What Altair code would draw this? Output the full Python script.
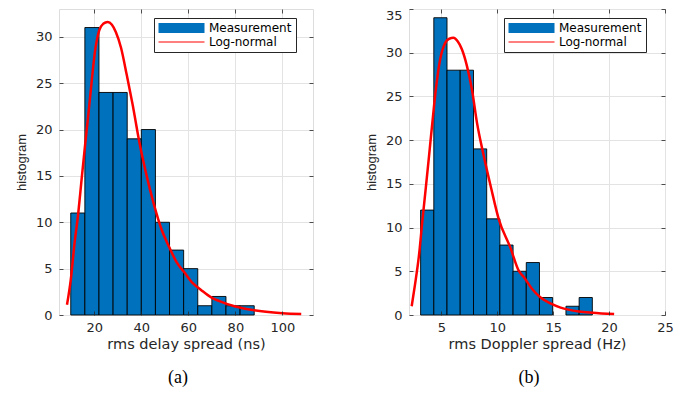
import altair as alt
import pandas as pd

# ---------------- data ----------------
delay_edges = [10, 16, 22, 28, 34, 40, 46, 52, 58, 64, 70, 76, 82, 88]
delay_counts = [11, 31, 24, 24, 19, 20, 10, 7, 5, 1, 2, 1, 1]
delay_fit_x = [8.4, 10.1, 11.5, 13.2, 14.6, 16.0, 17.5, 18.9, 20.3, 22.1, 23.8, 25.7,
               27.5, 29.2, 31.4, 33.8, 36.3, 39.2, 42.0, 45.5, 48.5, 51.9, 55.0, 58.3,
               62.0, 65.4, 69.7, 73.2, 79.6, 86.0, 93.0, 100.0, 108.0]
delay_fit_y = [1.1, 4.0, 7.5, 11.0, 14.6, 18.1, 21.7, 25.2, 28.4, 30.7, 31.4, 31.6,
               31.3, 30.5, 28.8, 25.9, 22.7, 18.6, 15.3, 11.8, 9.3, 7.3, 5.7, 4.6,
               3.4, 2.7, 1.9, 1.5, 0.95, 0.6, 0.35, 0.2, 0.12]

doppler_edges = [3.14, 4.32, 5.50, 6.68, 7.87, 9.05, 10.23, 11.41, 12.59, 13.77,
                 14.95, 16.14, 17.32, 18.50]
doppler_counts = [12, 34, 28, 28, 19, 11, 8, 5, 6, 2, 0, 1, 2]
doppler_fit_x = [2.34, 2.64, 3.0, 3.29, 3.6, 3.9, 4.19, 4.5, 4.88, 5.33, 5.7, 6.08,
                 6.45, 6.83, 7.28, 7.73, 8.18, 8.77, 9.45, 10.12, 11.17, 11.9, 12.4,
                 13.1, 13.87, 14.8, 15.66, 17.3, 18.5, 20.45]
doppler_fit_y = [1.0, 3.5, 6.9, 10.7, 14.5, 18.3, 22.0, 25.8, 29.2, 31.1, 31.6, 31.7,
                 31.3, 30.4, 28.5, 25.8, 22.0, 18.3, 14.5, 11.0, 7.7, 5.1, 4.3,
                 3.0, 2.0, 1.3, 0.85, 0.4, 0.25, 0.1]

series_names = ["Measurement", "Log-normal"]

BLUE = "#0072BD"
RED = "#FF0000"
DARK = "#262626"
GRID = "#E3E3E3"
SANS = "DejaVu Sans"

H = 306


def panel(edges, counts, fx, fy, xdom, ydom, xticks, yticks, xtitle, caption,
          width, top_label=None):
    bars = pd.DataFrame({"x0": edges[:-1], "x1": edges[1:], "count": counts})
    fit = pd.DataFrame({"x": fx, "y": fy})
    leg = pd.DataFrame({"x": [fx[0], fx[0]], "y": [fy[0], fy[0]], "series": series_names})

    xs = alt.Scale(domain=xdom, nice=False, zero=False)
    ys = alt.Scale(domain=ydom, nice=False, zero=False)

    ylab_base = "middle"
    if top_label is not None:
        ylab_base = {"condition": {"test": f"datum.value >= {top_label}", "value": "top"},
                     "value": "middle"}

    x_main = alt.Axis(orient="bottom", values=xticks, grid=True, gridColor=GRID, gridWidth=1,
                      ticks=False, domain=False, labelFlush=False, labelFont=SANS,
                      labelFontSize=13, labelColor=DARK, labelPadding=6, title=xtitle,
                      titleFont=SANS, titleFontSize=14.5, titleFontWeight="normal",
                      titleColor=DARK, titlePadding=3)
    y_main = alt.Axis(orient="left", values=yticks, grid=True, gridColor=GRID, gridWidth=1,
                      ticks=False, domain=False, labelFont=SANS, labelFontSize=13,
                      labelColor=DARK, labelPadding=7, labelBaseline=ylab_base,
                      title="histogram", titleFont="Liberation Sans", titleFontSize=13,
                      titleFontWeight="normal", titleColor=DARK, titlePadding=7)

    def inner(orient, vals, off):
        return alt.Axis(orient=orient, values=vals, offset=off, labels=False, domain=False,
                        grid=False, ticks=True, tickSize=4, tickColor=DARK, tickWidth=0.8,
                        title=None, zindex=1)

    bar_layer = alt.Chart(bars).mark_rect(fill=BLUE, stroke="black", strokeWidth=0.9).encode(
        x=alt.X("x0:Q", scale=xs, axis=x_main),
        x2="x1:Q",
        y=alt.Y("count:Q", scale=ys, axis=y_main),
        y2=alt.datum(0),
    ).transform_filter("datum.count > 0")

    line_layer = alt.Chart(fit).mark_line(color=RED, strokeWidth=2.5, interpolate="monotone").encode(
        x=alt.X("x:Q", scale=xs, axis=None),
        y=alt.Y("y:Q", scale=ys, axis=None),
    )

    legend = alt.Legend(
        title=None, orient="none", legendX=95, legendY=9, padding=4,
        fillColor="white", strokeColor=DARK, cornerRadius=0,
        symbolSize=2116, clipHeight=12, rowPadding=2, labelOffset=4,
        symbolStrokeWidth=1, symbolOpacity=1,
        symbolStrokeColor={"expr": "datum.value === 'Measurement' ? '#000000' : '#FF0000'"},
        labelFont=SANS, labelFontSize=12, labelColor="black", labelLimit=300,
    )
    legend_layer = alt.Chart(leg).mark_point(filled=True, opacity=0).encode(
        x=alt.X("x:Q", scale=xs, axis=None),
        y=alt.Y("y:Q", scale=ys, axis=None),
        color=alt.Color("series:N", scale=alt.Scale(domain=series_names, range=[BLUE, RED]),
                        legend=legend),
        shape=alt.Shape("series:N", scale=alt.Scale(
            domain=series_names,
            range=["M-1,-0.22H1V0.22H-1Z", "M-1,-0.02H1V0.02H-1Z"]), legend=legend),
    )

    ticks_a = alt.Chart(fit).mark_point(opacity=0).encode(
        x=alt.X("x:Q", scale=xs, axis=inner("top", xticks, -H)),
        y=alt.Y("y:Q", scale=ys, axis=inner("right", yticks, -width)),
    ).transform_filter("false")
    ticks_b = alt.Chart(fit).mark_point(opacity=0).encode(
        x=alt.X("x:Q", scale=xs, axis=inner("bottom", xticks, -H)),
        y=alt.Y("y:Q", scale=ys, axis=inner("left", yticks, -width)),
    ).transform_filter("false")

    return alt.layer(bar_layer, line_layer, legend_layer, ticks_a, ticks_b).resolve_axis(
        x="independent", y="independent"
    ).properties(
        width=width, height=H,
        title=alt.TitleParams(text=caption, orient="bottom", font="Liberation Serif",
                              fontSize=18, fontWeight="normal", color="black",
                              anchor="middle", offset=18, dx=-8),
    )


left = panel(delay_edges, delay_counts, delay_fit_x, delay_fit_y, [5, 113], [0, 33],
             [20, 40, 60, 80, 100], [0, 5, 10, 15, 20, 25, 30],
             "rms delay spread (ns)", "(a)", 254)
right = panel(doppler_edges, doppler_counts, doppler_fit_x, doppler_fit_y, [2.1, 25], [0, 35],
              [5, 10, 15, 20, 25], [0, 5, 10, 15, 20, 25, 30, 35],
              "rms Doppler spread (Hz)", "(b)", 256, top_label=35)

chart = alt.hconcat(left, right, spacing=50).resolve_scale(
    color="independent", shape="independent"
).resolve_legend(color="independent", shape="independent").properties(
    padding={"left": 6, "top": 0, "right": 0, "bottom": 0}
).configure_view(stroke=DARK, strokeWidth=0.8).configure(background="white")

chart.save("out.html", embed_options={"renderer": "svg", "actions": False})
